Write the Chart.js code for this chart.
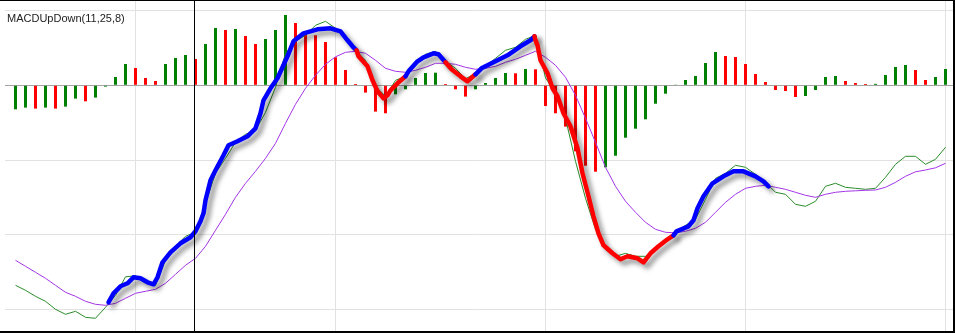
<!DOCTYPE html>
<html>
<head>
<meta charset="utf-8">
<script src="https://cdn.jsdelivr.net/npm/chart.js@4.4.1/dist/chart.umd.min.js"></script>
<style>
html, body { margin: 0; padding: 0; background: #fff; }
#wrap { width: 955px; height: 333px; }
</style>
</head>
<body>
<div id="wrap"><canvas id="macdChart" width="955" height="333"></canvas></div>
<script>
const title = 'MACDUpDown(11,25,8)';

// one value per bar, left to right
const histogram = [
  -24, -22.3, -23.3, -22.3, -23.3, -21.3, -13.3, -16, -12.3, -1.3,
  8.3, 21.3, 17.3, 7.3, 4.3, 21.3, 27.3, 30.3, 26.3, 41.3,
  57.3, 55.3, 56.3, 49.3, 41.3, 46.3, 55.3, 70.3, 62.3, 52,
  50, 43.3, 28, 15.3, 1.3, -7.3, -26.3, -28, -9, -4,
  7.3, 12.3, 12.6, 1.3, -4, -11.3, -4, 2.3, 7.3, 12.3,
  12, 16.3, 16, -20.7, -28, -41.3, -66, -80.4, -86.4, -82,
  -70.4, -52.4, -43.4, -34, -18.4, -8.4, 0.3, 5.3, 9.3, 22.3,
  33.3, 29.3, 28.3, 21.3, 11.3, 3.3, -4.7, -5.7, -11.7, -10.7,
  -4.7, 8.3, 9.3, 4.3, 2.3, 1.3, 1.5, 10.3, 18.3, 20.3,
  15.3, 5.3, 8.3, 16.3
];

const macd = [
  -200, -205, -211, -216, -224, -229, -226, -232, -233, -222,
  -210, -191.5, -190.5, -198, -200, -175, -161, -151, -147, -118,
  -88, -73, -57, -49, -45, -27, -2, 32, 44, 50,
  60, 64, 57, 48, 35, 25, -1, -11, 5, 9,
  22, 31, 34, 24, 17, 6.5, 12, 19, 27, 35,
  38, 46, 50, 7.5, -8, -33, -76, -113, -144, -164,
  -171, -168, -171, -171, -162, -156, -147, -140, -134, -114,
  -93, -88, -80, -82, -89, -97, -107, -109, -119, -121,
  -116, -101, -98, -102, -103, -104, -103, -92, -79, -71,
  -71, -79, -74, -62
];

const signal = [
  -175, -181, -187, -193, -200, -207, -211, -216, -219, -220,
  -218, -213, -208, -206, -204, -198, -189, -180, -173, -161,
  -145, -129, -112, -98, -86, -73, -58, -38, -19, -3,
  10, 21, 28.5, 33, 34, 32, 25, 17, 14, 13,
  15, 18, 22, 22, 21, 18, 16, 17, 19, 23,
  26, 30, 34, 28, 20, 8, -10, -33, -57, -82,
  -101, -116, -127, -137, -144, -147, -147.5, -146, -143, -137,
  -127, -117, -109, -103, -101, -100, -102, -104, -107, -110,
  -112, -109, -107, -106, -105.5, -105, -104.7, -102, -97, -91,
  -86.5, -84.7, -82.5, -78
];

// thick up/down line, finer positions (bar index units)
const thickX = [
  9.3, 9.8, 10.5, 11.2, 11.8, 12.5, 13.2, 13.8, 14.2, 14.7, 15.5, 16.5, 17.5, 18, 18.5, 18.8, 19, 19.5, 20,
  20.8, 21.3, 22.2, 23.2, 24, 24.5, 24.8, 25.5, 26.2, 27.2, 27.8, 28.8, 30.2, 31.5, 32.5, 33.2, 33.7, 34.1,
  34.3, 35.2, 35.7, 36.2, 36.8, 37.2, 37.5, 38.2, 39,
  39.3, 40.2, 40.8, 41.8, 42.3, 43,
  43.6, 44.5, 45.2, 46,
  46.6, 47.8, 49.2, 50.5, 51.5, 51.9,
  52, 52.2, 52.5, 53.2, 53.7, 54.2, 54.8, 55.5, 56.2, 56.7, 57.3, 57.8, 58.3, 58.8, 59.7, 60.5, 61.2, 62.2,
  62.8, 63.5, 64.3, 65.2, 65.8,
  66.1, 67.3, 67.8, 68.2, 68.8, 69.7, 70.8, 71.8, 72.8, 74, 74.8, 75.3
];
const thickY = [
  -217, -208, -201, -198, -192, -193, -197, -199, -192, -177, -167, -158, -152, -146, -136, -128, -115, -95, -85,
  -70, -60, -56, -51, -43, -28, -15, -3, 7, 29, 44, 52, 56, 57, 54, 45, 39, 35,
  29, 19, 5, -6, -13, -10, -5, 2, 9,
  14, 24, 28, 32, 31, 23,
  16, 9, 4, 11,
  17, 23, 30, 39, 45, 49,
  45, 40, 25, 12, -3, -11, -28, -41, -63, -88, -111, -131, -148, -160, -168, -174, -171, -173,
  -177, -168, -161, -154, -150,
  -146, -141, -135, -123, -111, -98, -91, -86, -86, -91, -96, -101
];
// run lengths of the thick line, alternating up (blue) / down (red)
const thickRuns = [37, 9, 6, 4, 6, 23, 12];

const xGrid = [11.95, 32.02, 53, 73, 93];
const yGrid = [-224.1, -149.4, -74.7, 0, 74.7];
const cursorAt = 17.88;

let thickSide = [];
thickRuns.forEach((n, k) => {
  for (let j = 0; j < n; j++) thickSide.push(k % 2 == 0 ? 'up' : 'down');
});

const histColors = histogram.map((v, i) => (i == 0 || v >= histogram[i - 1]) ? '#008000' : '#ff0000');

const decor = {
  id: 'decor',
  beforeDatasetDraw(chart, args) {
    if (args.index !== 3) return;
    const ctx = chart.ctx;
    ctx.save();
    ctx.shadowColor = 'rgba(0,0,0,0.45)';
    ctx.shadowBlur = 5;
    ctx.shadowOffsetX = 4;
    ctx.shadowOffsetY = 4;
  },
  afterDatasetDraw(chart, args) {
    if (args.index === 3) chart.ctx.restore();
  },
  afterDraw(chart) {
    const ctx = chart.ctx;
    ctx.save();
    ctx.fillStyle = '#000';
    ctx.fillRect(0, 0, chart.width, 1);
    ctx.fillRect(953, 0, 2, chart.height);
    ctx.fillRect(0, 331, chart.width, 2);
    const cx = Math.floor(chart.scales.x.getPixelForValue(cursorAt));
    ctx.fillRect(cx, 0, 1, 331);
    ctx.font = '11px "Liberation Sans", Arial, sans-serif';
    ctx.fillStyle = '#222';
    ctx.textBaseline = 'alphabetic';
    ctx.fillText(title, 7, 21.5);
    ctx.restore();
  }
};

new Chart(document.getElementById('macdChart'), {
  type: 'line',
  data: {
    datasets: [
      {
        type: 'bar',
        data: histogram.map((v, i) => ({x: i, y: v})),
        backgroundColor: histColors,
        barThickness: 3,
        inflateAmount: 0,
        order: 4
      },
      {
        data: macd.map((v, i) => ({x: i, y: v})),
        borderColor: '#2a8c2a',
        borderWidth: 1,
        pointRadius: 0,
        order: 3
      },
      {
        data: signal.map((v, i) => ({x: i, y: v})),
        borderColor: '#a335e6',
        borderWidth: 1,
        pointRadius: 0,
        order: 2
      },
      {
        data: thickX.map((v, i) => ({x: v, y: thickY[i]})),
        borderWidth: 4.5,
        borderCapStyle: 'round',
        borderJoinStyle: 'round',
        pointRadius: 0,
        segment: {
          borderColor: c => thickSide[c.p1DataIndex] == 'up' ? '#0000ff' : '#ff0000'
        },
        order: 1
      }
    ]
  },
  options: {
    responsive: false,
    animation: false,
    events: [],
    layout: { padding: { left: 5, right: 1, top: 0, bottom: 2 } },
    plugins: { legend: { display: false }, tooltip: { enabled: false } },
    scales: {
      x: {
        type: 'linear',
        min: -1.05,
        max: 93.85,
        offset: false,
        ticks: { display: false },
        border: { display: false },
        grid: { color: '#e2e2e2', lineWidth: 1, drawTicks: false, offset: false },
        afterBuildTicks: s => { s.ticks = xGrid.map(v => ({value: v})); }
      },
      y: {
        type: 'linear',
        min: -245.7,
        max: 85.3,
        ticks: { display: false },
        border: { display: false },
        grid: {
          color: c => c.tick.value === 0 ? '#a4a4a4' : '#e2e2e2',
          lineWidth: 1,
          drawTicks: false
        },
        afterBuildTicks: s => { s.ticks = yGrid.map(v => ({value: v})); }
      }
    }
  },
  plugins: [decor]
});
</script>
</body>
</html>
